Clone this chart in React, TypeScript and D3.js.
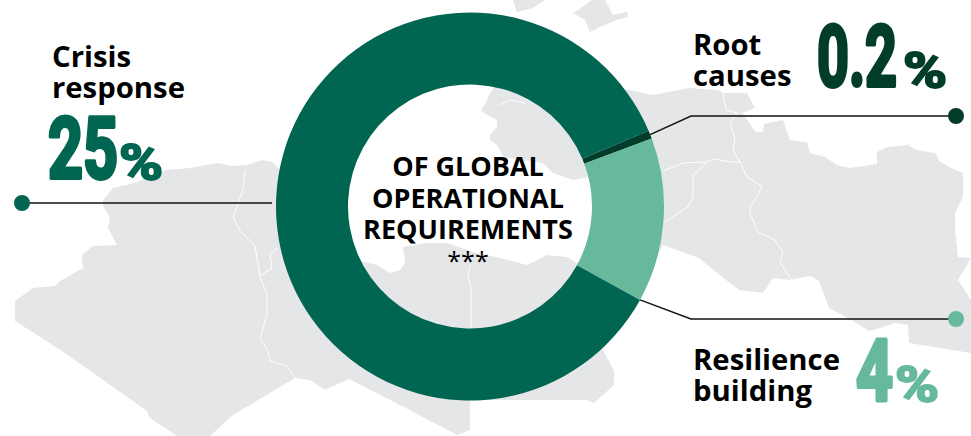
import React from 'react'
import * as d3 from 'd3'

const WIDTH = 971
const HEIGHT = 436

// donut slices, clockwise from the root causes slice
const categories = ['Root causes', 'Resilience building', 'Crisis response']
const values = [0.2, 4, 25]
const valueLabels = ['0.2', '4', '25']
const sliceColors = ['#023d2b', '#66b99b', '#006652']
const centerLines = ['OF GLOBAL', 'OPERATIONAL', 'REQUIREMENTS']

type Pt = [number, number]

// background map
const mainLand: Pt[] = [
  [103, 200], [113, 188], [135, 183], [150, 176], [167, 170], [190, 168], [217, 163], [232, 166], [247, 165], [262, 160], [272, 162],
  [300, 190], [357, 260], [377, 265], [390, 273], [400, 270], [405, 263], [403, 247], [425, 243], [447, 243], [473, 252],
  [500, 258], [527, 265], [547, 255], [567, 257], [577, 263], [610, 240], [610, 190], [588, 177], [573, 180],
  [553, 173], [543, 163], [503, 157], [501, 152], [497, 145], [490, 140], [490, 135], [497, 127], [497, 120], [484, 113],
  [481, 110], [486, 103], [489, 95], [493, 89],
  [500, 80], [629, 90], [653, 95], [689, 88], [718, 90], [723, 93], [747, 93], [755, 108], [742, 113],
  [756, 132], [763, 132], [764, 124], [783, 120], [787, 132], [790, 140], [807, 142], [810, 153], [825, 157],
  [837, 165], [850, 168], [877, 164], [877, 152], [887, 147], [908, 145], [917, 150], [935, 153], [940, 162],
  [955, 170], [963, 173], [963, 197], [955, 213], [955, 230], [958, 257], [971, 258], [958, 280], [971, 300],
  [971, 353], [909, 343], [908, 325], [896, 323], [869, 331], [848, 318], [829, 308], [819, 281], [811, 276],
  [798, 278], [791, 280], [773, 278], [763, 293], [739, 290], [726, 280], [699, 258], [663, 245], [640, 290],
  [603, 350], [614, 371], [614, 385], [594, 403], [586, 400], [558, 400], [470, 400], [470, 430], [457, 435],
  [400, 405], [349, 379], [325, 390], [310, 380], [295, 378], [233, 415], [210, 436], [177, 436], [150, 418],
  [147, 411], [62, 351], [15, 321], [15, 301], [33, 288], [55, 286], [60, 281], [83, 268], [82, 255], [93, 246],
  [117, 245], [108, 228], [110, 218], [103, 205],
]
const crimea: Pt[] = [
  [573, 13], [588, 3], [592, 0], [605, 0], [613, 15], [627, 12], [628, 17], [617, 20], [600, 27], [590, 32], [585, 20],
]
const northShore: Pt[] = [[513, 0], [517, 12], [533, 8], [545, 0]]
const borders: Pt[][] = [
  [[245, 170], [243, 190], [233, 217], [240, 231], [255, 246], [260, 276], [267, 295], [267, 315], [260, 338], [268, 351], [270, 361], [287, 366], [295, 378]],
  [[260, 276], [272, 268], [270, 255], [278, 248]],
  [[470, 265], [468, 277], [471, 288], [471, 330]],
  [[500, 105], [510, 100], [525, 103]],
  [[723, 93], [726, 110], [737, 113], [730, 123], [735, 140], [733, 150], [740, 162], [747, 177], [762, 186], [757, 197], [750, 207], [750, 213], [758, 232], [775, 240], [783, 252], [780, 262], [787, 273], [792, 280]],
  [[740, 162], [732, 162], [713, 159], [707, 162], [683, 163], [663, 171]],
  [[707, 162], [693, 175], [693, 197], [688, 207], [663, 223]],
]

const cx = 470
const cy = 206.5
const outerR = 194
const innerR = 122

const line = d3.line()
const pie = d3.pie<number>().sort(null).startAngle((67 * Math.PI) / 180).endAngle((427 * Math.PI) / 180)
const arc = d3.arc<d3.PieArcDatum<number>>().innerRadius(innerR).outerRadius(outerR)
const slices = pie(values)

// point on the ring's outer edge for a pie angle
const onRing = (angle: number): Pt => [cx + outerR * Math.sin(angle), cy - outerR * Math.cos(angle)]

const labelFont = '"Open Sans", sans-serif'
const numberFont = '"Liberation Sans Narrow", "Roboto", sans-serif'

function BigNumber({ value, color, x, numWidth, pctX, baseline }: {
  value: string; color: string; x: number; numWidth: number; pctX: number; baseline: number
}) {
  return (
    <g fill={color} stroke={color} fontFamily={numberFont} fontWeight={700}>
      <text x={x} y={baseline} fontSize={86} strokeWidth={4} strokeLinejoin="round" textLength={numWidth} lengthAdjust="spacingAndGlyphs">{value}</text>
      <text x={pctX} y={baseline + 2} fontSize={50} strokeWidth={2} textLength={44} lengthAdjust="spacingAndGlyphs">%</text>
    </g>
  )
}

function Label({ lines, x, y }: { lines: string[]; x: number; y: number }) {
  return (
    <text fontFamily={labelFont} fontWeight={700} fontSize={29.3} fill="#000">
      {lines.map((l, i) => <tspan key={l} x={x} y={y + i * 31}>{l}</tspan>)}
    </text>
  )
}

export default function App() {
  const [root, resilience] = slices
  const leaders: { pts: Pt[]; color: string }[] = [
    { pts: [[22, 203], [272, 203]], color: sliceColors[2] },
    { pts: [[956, 116], [691, 116], onRing((root.startAngle + root.endAngle) / 2)], color: sliceColors[0] },
    { pts: [[956, 319], [691, 319], onRing(resilience.endAngle)], color: sliceColors[1] },
  ]

  return (
    <svg width={WIDTH} height={HEIGHT} style={{ position: 'absolute', left: 0, top: 0 }}>
      <g fill="#e5e6e8">
        <path d={line(mainLand) + 'Z'} />
        <path d={line(crimea) + 'Z'} />
        <path d={line(northShore) + 'Z'} />
      </g>
      <g fill="none" stroke="#fff" strokeWidth={1}>
        {borders.map((b, i) => <path key={i} d={line(b)!} />)}
      </g>

      {leaders.map((l, i) => (
        <g key={i}>
          <path d={line(l.pts)!} fill="none" stroke="#111" strokeWidth={1.4} />
          <circle cx={l.pts[0][0]} cy={l.pts[0][1]} r={8} fill={l.color} />
        </g>
      ))}

      <g transform={`translate(${cx},${cy})`}>
        {slices.map((s, i) => <path key={categories[i]} d={arc(s)!} fill={sliceColors[i]} />)}
      </g>

      <text fontFamily={labelFont} fontWeight={700} fontSize={27} fill="#000" textAnchor="middle">
        {centerLines.map((l, i) => <tspan key={l} x={468} y={176 + i * 31.5}>{l}</tspan>)}
      </text>
      <text x={468} y={270} fontFamily={labelFont} fontSize={25} fill="#000" textAnchor="middle">***</text>

      <Label lines={['Crisis', 'response']} x={52} y={67} />
      <BigNumber value={valueLabels[2]} color={sliceColors[2]} x={48} numWidth={70} pctX={119} baseline={178} />

      <Label lines={['Root', 'causes']} x={693} y={55} />
      <BigNumber value={valueLabels[0]} color={sliceColors[0]} x={817} numWidth={80} pctX={903} baseline={86} />

      <Label lines={['Resilience', 'building']} x={693} y={370} />
      <BigNumber value={valueLabels[1]} color={sliceColors[1]} x={856} numWidth={37} pctX={895} baseline={400} />
    </svg>
  )
}
